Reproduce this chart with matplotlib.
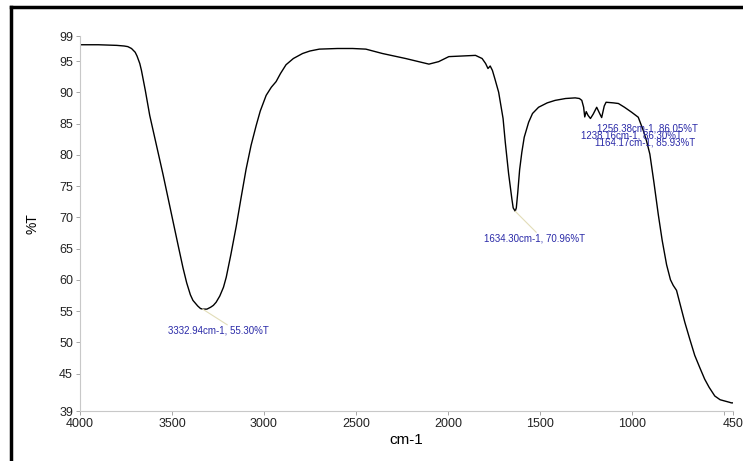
import matplotlib
matplotlib.use("Agg")
import matplotlib.pyplot as plt
from matplotlib.lines import Line2D
from matplotlib.ticker import FixedLocator

wavenumber = [4000, 3900, 3800, 3760, 3740, 3720, 3700, 3690, 3675, 3666, 3645, 3621,
              3585, 3549, 3520, 3494, 3465, 3440, 3420, 3400, 3386, 3360, 3345, 3333,
              3310, 3290, 3275, 3260, 3240, 3220, 3205, 3180, 3151, 3125, 3097, 3070,
              3042, 3020, 2988, 2960, 2934, 2910, 2880, 2840, 2790, 2750, 2699, 2600,
              2518, 2446, 2356, 2230, 2103, 2050, 1995, 1850, 1814, 1795, 1782, 1770,
              1758, 1745, 1724, 1700, 1688, 1670, 1652, 1645, 1634, 1628, 1620, 1610,
              1598, 1585, 1561, 1540, 1507, 1460, 1417, 1360, 1308, 1285, 1272, 1262,
              1256, 1248, 1238, 1225, 1210, 1191, 1175, 1164, 1150, 1140, 1100, 1073,
              1040, 1001, 965, 938, 920, 902, 880, 856, 835, 811, 790, 780, 775, 757,
              735, 712, 685, 658, 630, 604, 580, 549, 520, 495, 470, 459, 450]
transmittance = [97.6, 97.6, 97.5, 97.4, 97.3, 97.0, 96.4, 95.8, 94.6, 93.5, 90.3, 86.3,
                 81.6, 76.9, 72.9, 69.3, 65.3, 61.9, 59.5, 57.6, 56.7, 55.8, 55.4, 55.3,
                 55.3, 55.6, 55.9, 56.4, 57.4, 58.8, 60.4, 64.0, 68.5, 73.0, 77.7, 81.5,
                 84.7, 87.0, 89.5, 90.8, 91.7, 93.0, 94.4, 95.4, 96.2, 96.6, 96.9, 97.0,
                 97.0, 96.9, 96.2, 95.4, 94.5, 94.9, 95.7, 95.9, 95.4, 94.6, 93.8, 94.2,
                 93.5, 92.2, 90.0, 85.8, 82.0, 77.0, 72.9, 71.5, 70.96, 71.5, 74.0, 77.6,
                 80.4, 82.8, 85.2, 86.6, 87.6, 88.3, 88.7, 89.0, 89.1, 89.0, 88.7, 87.6,
                 86.05, 86.9, 86.3, 85.8, 86.5, 87.6, 86.6, 85.95, 87.8, 88.4, 88.3, 88.2,
                 87.6, 86.8, 86.0, 83.9, 82.2, 80.1, 75.6, 70.4, 66.3, 62.4, 60.0, 59.4,
                 59.1, 58.3, 55.8, 53.2, 50.5, 47.9, 45.9, 44.1, 42.8, 41.4, 40.8, 40.6,
                 40.4, 40.3, 40.3]

x_ticks = [4000, 3500, 3000, 2500, 2000, 1500, 1000, 450]
x_tick_labels = ["4000", "3500", "3000", "2500", "2000", "1500", "1000", "450"]
y_ticks = [39, 45, 50, 55, 60, 65, 70, 75, 80, 85, 90, 95, 99]
y_tick_labels = ["39", "45", "50", "55", "60", "65", "70", "75", "80", "85", "90", "95", "99"]

peak_labels = ["3332.94cm-1, 55.30%T", "1634.30cm-1, 70.96%T",
               "1256.38cm-1, 86.05%T", "1238.16cm-1, 86.30%T", "1164.17cm-1, 85.93%T"]
peak_pos = [(3333, 55.3), (1634, 70.96), (1256, 86.05), (1238, 86.3), (1164, 85.95)]
label_pos = [(3523, 51.9), (1805, 66.6), (1192, 84.2), (1274, 83.1), (1198, 81.9)]

fig = plt.figure(figsize=(7.43, 4.61), dpi=100)
ax = fig.add_axes([80/743, 1-411/461, (733-80)/743, (411-36)/461])

ax.plot(wavenumber, transmittance, color="black", lw=1.0)
ax.set_xlim(4000, 450)
ax.set_ylim(39, 99)

font = ["Liberation Sans Narrow", "Liberation Sans", "DejaVu Sans"]
ax.set_xticks(x_ticks)
ax.set_xticklabels(x_tick_labels, family=font, fontsize=9)
ax.set_yticks(y_ticks)
ax.set_yticklabels(y_tick_labels, family=font, fontsize=9)
ax.xaxis.set_minor_locator(FixedLocator([500]))
ax.tick_params(axis="both", which="both", direction="out", length=3, width=0.6,
               color="#999999", labelcolor="#222222", pad=2)

for s in ["top", "right"]:
    ax.spines[s].set_visible(False)
for s in ["left", "bottom"]:
    ax.spines[s].set_color("#c8c8c8")
    ax.spines[s].set_linewidth(0.8)

ax.set_xlabel("cm-1", family=font, fontsize=11, labelpad=2)
ax.set_ylabel("%T", family=font, fontsize=10, labelpad=14)

for i, txt in enumerate(peak_labels):
    lx, ly = label_pos[i]
    ax.text(lx, ly, txt, color="#2a2aa8", fontsize=7, family=font,
            ha="left", va="center")
# leader lines for the two isolated peaks
ax.plot([peak_pos[0][0], 3200], [peak_pos[0][1], 52.8], color="#e2ddb8", lw=0.8)
ax.plot([peak_pos[1][0], 1520], [peak_pos[1][1], 67.6], color="#e2ddb8", lw=0.8)

# outer frame (top and left visible)
W, H = 743, 461
fig.add_artist(Line2D([11/W, 1.0], [1-7/H, 1-7/H], color="black", lw=2.5,
                      transform=fig.transFigure))
fig.add_artist(Line2D([11/W, 11/W], [0.0, 1-7/H], color="black", lw=2.5,
                      transform=fig.transFigure))

fig.savefig("out.png", dpi=100)
